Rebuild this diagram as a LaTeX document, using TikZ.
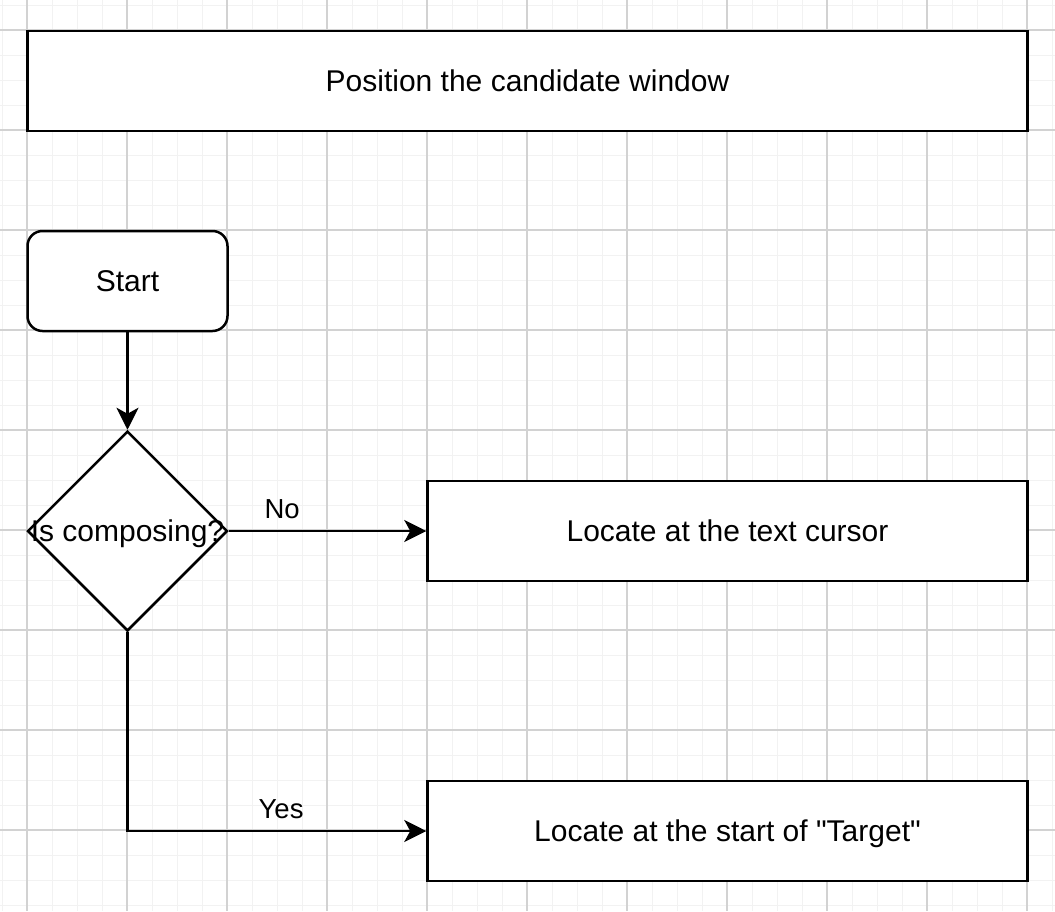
\documentclass[tikz,border=0pt]{standalone}
\usepackage{fontspec}
\setmainfont{Liberation Sans}[Ligatures=TeXOff]
\usetikzlibrary{shapes.geometric,arrows.meta}
\tikzset{
  x=1pt, y=-1pt,
  bigtext/.style={font=\fontsize{30}{36}\selectfont, text height=28.4pt, text depth=7.6pt},
  shapebox/.style={draw=black, fill=white, line width=2.5pt, inner sep=0pt, bigtext},
  procbox/.style={shapebox, rectangle, minimum height=100pt},
  startbox/.style={shapebox, rectangle, rounded corners=15pt, minimum width=200pt, minimum height=100pt},
  decbox/.style={shapebox, diamond, minimum width=200pt, minimum height=200pt, aspect=1},
  arr/.style={draw=black, line width=2.5pt, -{Stealth[length=22pt,width=22pt,inset=6pt]}},
  elabel/.style={font=\fontsize{27.5}{33}\selectfont, inner sep=0pt, anchor=base, yshift=13pt},
  minorgrid/.style={draw={rgb,255:red,242;green,242;blue,242}, line width=1pt},
  majorgrid/.style={draw={rgb,255:red,210;green,210;blue,210}, line width=1.5pt}
}
\begin{document}
\begin{tikzpicture}
\useasboundingbox (0,0) rectangle (1055,911);
\fill[white] (0,0) rectangle (1055,911);
% grid
\foreach \i in {0,...,42} {
  \draw[minorgrid] ({2+25*\i},0) -- ({2+25*\i},911);
}
\foreach \j in {0,...,36} {
  \draw[minorgrid] (0,{5+25*\j}) -- (1055,{5+25*\j});
}
\foreach \i in {0,...,10} {
  \draw[majorgrid] ({27+100*\i},0) -- ({27+100*\i},911);
}
\foreach \j in {0,...,8} {
  \draw[majorgrid] (0,{30+100*\j}) -- (1055,{30+100*\j});
}
% nodes
\node[procbox, minimum width=1000pt] (title) at (527.5,81) {Position the candidate window};
\node[startbox] (start) at (127.5,281) {Start};
\node[decbox, label={[bigtext, inner sep=0pt]center:Is composing?}] (dec) at (127.5,531) {};
\node[procbox, minimum width=600pt] (loc1) at (727.5,531) {Locate at the text cursor};
\node[procbox, minimum width=600pt] (loc2) at (727.5,831) {Locate at the start of "Target"};
% connectors
\draw[arr] (start) -- (dec);
\draw[arr] (dec.east) -- node[elabel, pos=0.27] {No} (loc1.west);
\draw[arr] (dec.south) |- node[elabel, pos=0.757] {Yes} (loc2.west);
\end{tikzpicture}
\end{document}
